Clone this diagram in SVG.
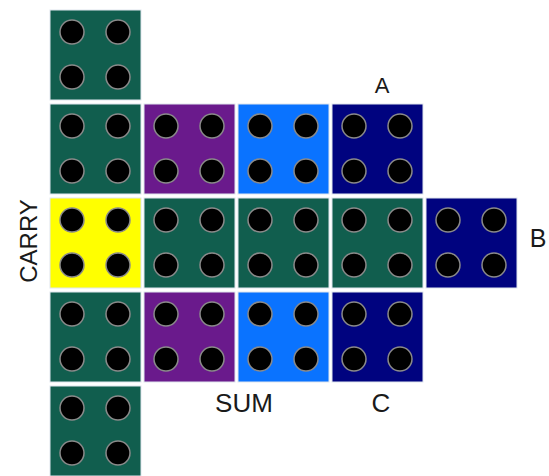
<svg xmlns="http://www.w3.org/2000/svg" width="549" height="476" viewBox="0 0 549 476">
<style>
.sq{stroke:#dfe6ee;stroke-width:1}
.g{fill:#115e4e}.p{fill:#6a1a8c}.lb{fill:#0a73ff}.nv{fill:#00037f}.y{fill:#ffff00}
.d{fill:#000;stroke:#8a8a8a;stroke-width:1.5}
.lbl{font-family:"Liberation Sans",Arial,sans-serif;font-size:23px;fill:#1a1a1a}
</style>
<defs>
<g id="dots">
<circle class="d" cx="22" cy="22" r="12"/><circle class="d" cx="68" cy="22" r="12"/>
<circle class="d" cx="22" cy="67" r="12"/><circle class="d" cx="68" cy="67" r="12"/>
</g>
</defs>
<g id="r0c0" transform="translate(50,10)"><rect class="sq g" width="91" height="90"/><use href="#dots"/></g>
<g id="r1c0" transform="translate(50,104)"><rect class="sq g" width="91" height="90"/><use href="#dots"/></g>
<g id="r1c1" transform="translate(144,104)"><rect class="sq p" width="91" height="90"/><use href="#dots"/></g>
<g id="r1c2" transform="translate(238,104)"><rect class="sq lb" width="91" height="90"/><use href="#dots"/></g>
<g id="r1c3" transform="translate(332,104)"><rect class="sq nv" width="91" height="90"/><use href="#dots"/></g>
<g id="r2c0" transform="translate(50,198)"><rect class="sq y" width="91" height="90"/><use href="#dots"/></g>
<g id="r2c1" transform="translate(144,198)"><rect class="sq g" width="91" height="90"/><use href="#dots"/></g>
<g id="r2c2" transform="translate(238,198)"><rect class="sq g" width="91" height="90"/><use href="#dots"/></g>
<g id="r2c3" transform="translate(332,198)"><rect class="sq g" width="91" height="90"/><use href="#dots"/></g>
<g id="r2c4" transform="translate(426,198)"><rect class="sq nv" width="91" height="90"/><use href="#dots"/></g>
<g id="r3c0" transform="translate(50,292)"><rect class="sq g" width="91" height="90"/><use href="#dots"/></g>
<g id="r3c1" transform="translate(144,292)"><rect class="sq p" width="91" height="90"/><use href="#dots"/></g>
<g id="r3c2" transform="translate(238,292)"><rect class="sq lb" width="91" height="90"/><use href="#dots"/></g>
<g id="r3c3" transform="translate(332,292)"><rect class="sq nv" width="91" height="90"/><use href="#dots"/></g>
<g id="r4c0" transform="translate(50,386)"><rect class="sq g" width="91" height="90"/><use href="#dots"/></g>
<g id="connectors"></g>
<g id="labels">
<text class="lbl" x="382" y="93" text-anchor="middle" style="font-size:22px">A</text>
<text class="lbl" x="538" y="247" text-anchor="middle" style="font-size:25px">B</text>
<text class="lbl" x="244" y="412" text-anchor="middle" style="font-size:26px">SUM</text>
<text class="lbl" x="381" y="412" text-anchor="middle" style="font-size:26px">C</text>
<text class="lbl" transform="translate(37,241) rotate(-90)" text-anchor="middle" style="font-size:24px">CARRY</text>
</g>
</svg>
